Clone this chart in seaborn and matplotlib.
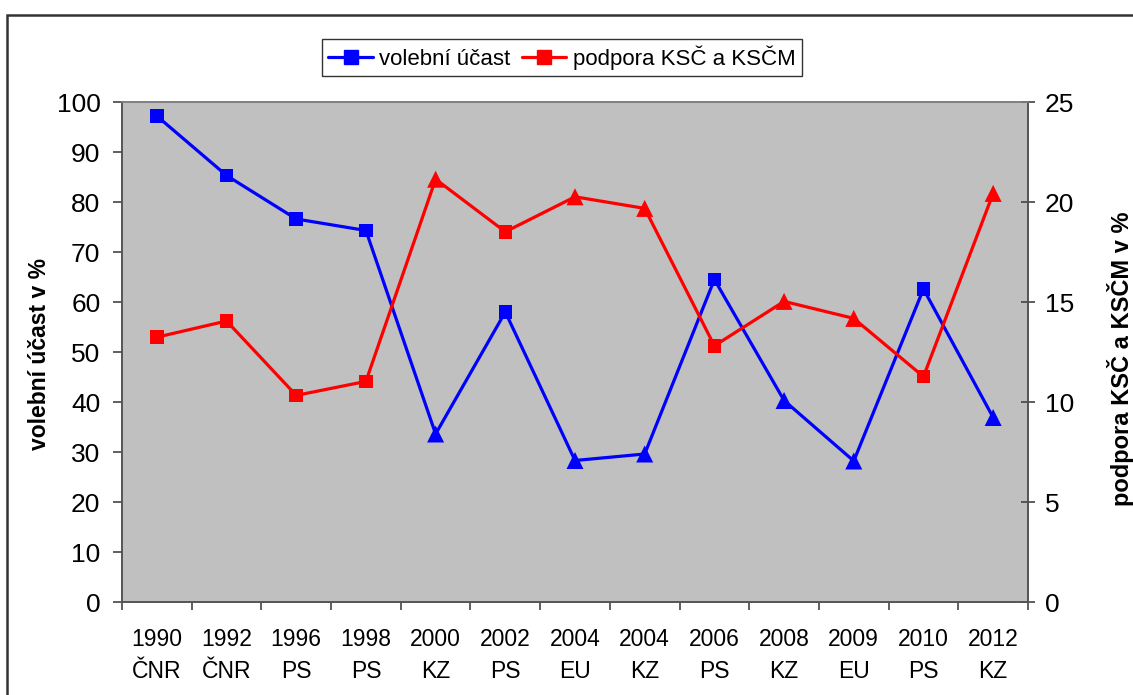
import pandas as pd
import matplotlib.pyplot as plt
import seaborn as sns
import numpy as np
from matplotlib.lines import Line2D
from matplotlib.patches import Rectangle

# Election data: year, type, turnout (%), support for KSČ/KSČM (%)
years = ['1990', '1992', '1996', '1998', '2000', '2002', '2004', '2004', '2006', '2008', '2009', '2010', '2012']
kinds = ['ČNR', 'ČNR', 'PS', 'PS', 'KZ', 'PS', 'EU', 'KZ', 'PS', 'KZ', 'EU', 'PS', 'KZ']
turnout = [97.2, 85.3, 76.6, 74.3, 33.6, 58.0, 28.3, 29.6, 64.5, 40.3, 28.2, 62.6, 36.9]
support = [13.24, 14.05, 10.33, 11.03, 21.14, 18.51, 20.26, 19.68, 12.81, 15.03, 14.18, 11.27, 20.43]

df = pd.DataFrame({'pos': np.arange(len(years)), 'year': years, 'kind': kinds,
                   'turnout': turnout, 'support': support})
# squares for parliamentary elections, triangles for regional / EU ones
df['shape'] = np.where(df['kind'].isin(['KZ', 'EU']), 'triangle', 'square')

sns.set_theme(style='white')
plt.rcParams['font.family'] = ['Liberation Sans', 'DejaVu Sans']
plt.rcParams['text.color'] = 'black'

fig = plt.figure(figsize=(11.33, 6.95), dpi=100)
ax1 = fig.add_axes([122 / 1133, 1 - 602 / 695, 906 / 1133, 500 / 695])
ax1.set_facecolor('#C0C0C0')
ax2 = ax1.twinx()

markers = {'square': 's', 'triangle': '^'}
sizes = {'square': 95, 'triangle': 150}

# turnout on the left axis
sns.lineplot(data=df, x='pos', y='turnout', ax=ax1, color='#0000FF', lw=2.3)
sns.scatterplot(data=df, x='pos', y='turnout', ax=ax1, style='shape', markers=markers,
                size='shape', sizes=sizes, color='#0000FF', edgecolor='none', legend=False, zorder=3)

# communist party support on the right axis
sns.lineplot(data=df, x='pos', y='support', ax=ax2, color='#FF0000', lw=2.3)
sns.scatterplot(data=df, x='pos', y='support', ax=ax2, style='shape', markers=markers,
                size='shape', sizes=sizes, color='#FF0000', edgecolor='none', legend=False, zorder=3)

ax1.set_xlim(-0.5, len(years) - 0.5)
ax1.set_ylim(0, 100)
ax2.set_ylim(0, 25)
ax1.set_yticks(np.arange(0, 101, 10))
ax2.set_yticks(np.arange(0, 26, 5))

# category boundaries as ticks, labels at the centres
ax1.set_xticks(np.arange(-0.5, len(years), 1))
ax1.set_xticklabels([])
ax1.set_xticks(np.arange(len(years)), minor=True)
ax1.set_xticklabels([f'{y}\n{k}' for y, k in zip(years, kinds)], minor=True,
                    fontsize=16.5, linespacing=1.5)
ax1.tick_params(axis='x', which='major', direction='out', length=6, width=1.2,
                color='#444444', bottom=True)
ax1.tick_params(axis='x', which='minor', length=0, pad=19, bottom=True, labelcolor='black')
ax1.tick_params(axis='y', direction='out', length=6.5, width=1.2, color='#444444',
                labelsize=19, pad=9, left=True, labelcolor='black')
ax2.tick_params(axis='y', direction='inout', length=10, width=1.2, color='#444444',
                labelsize=19, pad=7, right=True, labelcolor='black')

ax1.set_xlabel('')
ax1.set_ylabel('')
ax2.set_ylabel('')
fig.text(40 / 1133, 1 - 354 / 695, 'volební účast v %', rotation=90, ha='center', va='center',
         fontsize=16.5, fontweight='bold', color='black')
fig.text(1120 / 1133, 1 - 359 / 695, 'podpora KSČ a KSČM v %', rotation=90, ha='center',
         va='center', fontsize=17, fontweight='bold', color='black')

for a in (ax1, ax2):
    for s in a.spines.values():
        s.set_color('#555555')
        s.set_linewidth(1.2)
    a.spines['top'].set_color('#808080')
    a.grid(False)

handles = [Line2D([], [], color='#0000FF', lw=2.3, marker='s', markersize=9.5),
           Line2D([], [], color='#FF0000', lw=2.3, marker='s', markersize=9.5)]
leg = fig.legend(handles, ['volební účast', 'podpora KSČ a KSČM'], loc='center',
                 bbox_to_anchor=(562 / 1133, 1 - 57.5 / 695), ncol=2, fontsize=16,
                 frameon=True, fancybox=False, handlelength=2.0, handletextpad=0.3,
                 columnspacing=0.5, borderpad=0.3, borderaxespad=0, labelcolor='black')
leg.get_frame().set_edgecolor('black')
leg.get_frame().set_linewidth(1.0)

# outer chart frame (cut off at the right and bottom like the original)
fig.patches.append(Rectangle((7 / 1133, -0.1), 1.2, 1.1 - 15 / 695, transform=fig.transFigure,
                             fill=False, edgecolor='#333333', lw=1.8))

fig.savefig('out.png', dpi=100)
